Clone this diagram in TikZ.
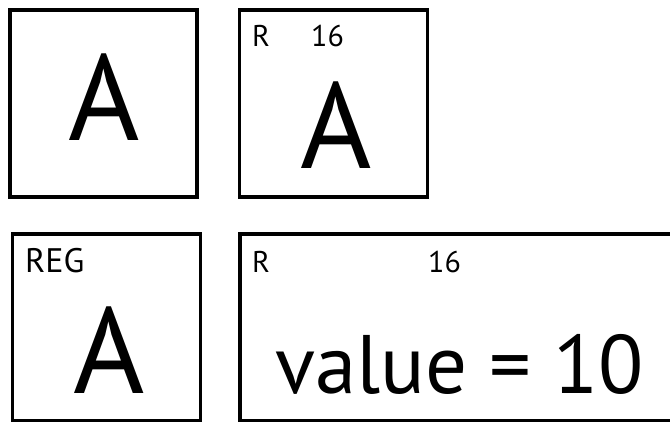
\documentclass[tikz,border=0pt]{standalone}
\usepackage{fontspec}
\setmainfont{PT Sans}
\begin{document}
\begin{tikzpicture}[x=1pt,y=1pt,
  box/.style={draw=black,line width=3.2pt,fill=white,inner sep=0pt},
  big/.style={inner sep=0pt,anchor=base,text depth=0pt,font=\fontsize{122}{122}\selectfont},
  small/.style={inner sep=0pt,anchor=base west,font=\fontsize{30}{30}\selectfont},
  mid/.style={inner sep=0pt,anchor=base west,text depth=0pt,font=\fontsize{83}{83}\selectfont}]
\useasboundingbox (0,0) rectangle (670,-421);
\clip (0,0) rectangle (670,-421);
\node[box,minimum width=187pt,minimum height=187pt] (b1) at (103.5,-103.5) {};
\node[box,minimum width=188pt,minimum height=187pt] (b2) at (333.5,-103.5) {};
\node[box,minimum width=188pt,minimum height=187pt] (b3) at (106.5,-327.5) {};
\node[box,minimum width=450pt,minimum height=187pt] (b4) at (465,-327.5) {};
\node[big] (a1) at (104,-140) {A};
\node[small] (r2) at (252,-46) {R};
\node[small] (n2) at (311,-46) {16};
\node[big] (a2) at (336,-168) {A};
\node[small,font=\fontsize{34}{34}\selectfont] (reg) at (25,-272) {REG};
\node[big] (a3) at (109,-393) {A};
\node[small] (r4) at (252,-272) {R};
\node[small] (n4) at (428,-272) {16};
\node[mid] (val) at (275,-393) {value = 10};
\end{tikzpicture}
\end{document}
